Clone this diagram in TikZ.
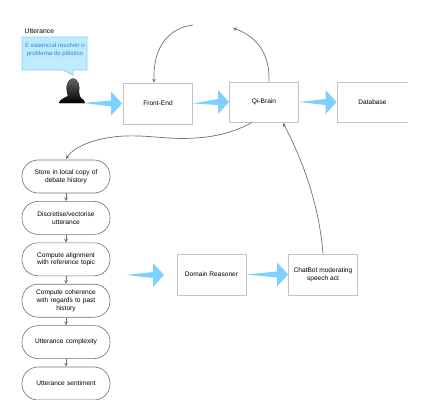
\documentclass[tikz,border=0pt]{standalone}
\usepackage{fontspec}
\setmainfont{Liberation Sans}
\usetikzlibrary{arrows, calc}
\definecolor{flowblue}{HTML}{80D0FF}
\definecolor{calloutfill}{HTML}{C0EAFF}
\definecolor{boxgray}{HTML}{C4C4C4}
\definecolor{linegray}{HTML}{707070}
\tikzstyle{process} = [
    rectangle,
    minimum width=69pt,
    minimum height=40pt,
    inner sep=1pt,
    align=center,
    line width=0.8pt,
    font=\fontsize{6.6}{8}\selectfont,
    draw=boxgray
]
\tikzstyle{startstop} = [
    rectangle,
    rounded corners=16pt,
    minimum width=88pt,
    minimum height=33pt,
    text width=76pt,
    inner sep=1pt,
    align=center,
    line width=0.6pt,
    font=\fontsize{6.6}{7.6}\selectfont,
    draw=linegray
]
\tikzstyle{arrow} = [linegray,line width=0.7pt,->,>=stealth]
\newcommand{\flowarrow}[2]{
\fill [flowblue] (#1) -- ($(#2)+(-11,-3)$) -- ($(#2)+(-11,-12)$) -- (#2)
    -- ($(#2)+(-11,12)$) -- ($(#2)+(-11,3)$) -- cycle;
}
\begin{document}
\begin{tikzpicture}[x=1pt,y=-1pt,node distance=41.4pt]
\useasboundingbox (0,0) rectangle (432,407);
\clip (0,0) rectangle (407.5,399.5);

\node (utterance) [anchor=west,inner sep=0pt,font=\fontsize{6.8}{8}\selectfont] at (24.5,31.5) {Utterance};

\draw [fill=calloutfill,draw=flowblue,line width=0.7pt] (22,37) -- (87,37) -- (87,70) -- (73,70) -- (73,75)
    -- (63,70) -- (22,70) -- cycle;
\node (speech) [anchor=north,align=center,text=blue!45!cyan!70!gray,
    font=\fontsize{6.1}{7.8}\selectfont] at (55,38.5)
{É essencial resolver o\\problema do plástico};

% person
\fill [top color=black!60,bottom color=black]
    (59,103) .. controls (60,99) and (65,98) .. (68,96)
    .. controls (66,90) and (65,82) .. (72,78.5)
    .. controls (79,78) and (80,87) .. (79,92)
    .. controls (79,95) and (80,97) .. (81,98)
    .. controls (83,99) and (85,101) .. (85,103) -- cycle;

\node (frontend) [process, minimum height=41pt] at (158,103.5) {Front-End};
\node (qibrain) [process] at (264,102) {Qi-Brain};
\node (database) [process, minimum width=71pt] at (372.5,102) {Database};

\node (domain) [process, minimum height=41pt] at (211.5,274.5) {Domain Reasoner};
\node (chatbot) [process, minimum height=41pt] at (323,274.5) {ChatBot moderating\\speech act};

\node (store) [startstop] at (66,176.5) {Store in local copy of\\debate history};
\node (discretise) [startstop, below of=store] {Discretise/vectorise\\utterance};
\node (alignment) [startstop, below of=discretise] {Compute alignment\\with reference topic};
\node (coherence) [startstop, below of=alignment] {Compute coherence\\with regards to past\\history};
\node (complexity) [startstop, below of=coherence] {Utterance complexity};
\node (sentiment) [startstop, below of=complexity] {Utterance sentiment};

\coordinate (person) at (83,103);
\coordinate (looptop) at (193,25);
\coordinate (loopend) at (233,28);
\coordinate (reasonertail) at (126,275);
\coordinate (reasonertip) at (164,275);

\flowarrow{person}{$(frontend.west)+(-1,0)$}
\flowarrow{frontend.east}{qibrain.west}
\flowarrow{qibrain.east}{database.west}
\flowarrow{reasonertail}{reasonertip}
\flowarrow{domain.east}{chatbot.west}

\draw [arrow] (looptop) .. controls (170,28) and (153,45) .. ([xshift=-4pt]frontend.north);
\draw [arrow] ([xshift=5pt]qibrain.north) .. controls (270,55) and (258,37) .. (loopend);
\draw [arrow] ([xshift=-12pt]qibrain.south) .. controls (235,132) and (215,137) .. (195,138)
    .. controls (170,140) and (150,135) .. (125,136)
    .. controls (100,137) and (75,145) .. (66,159);
\draw [arrow] (chatbot.north) .. controls (320,215) and (308,170) .. (283,123);

\draw [arrow] (store) -- (discretise);
\draw [arrow] (discretise) -- (alignment);
\draw [arrow] (alignment) -- (coherence);
\draw [arrow] (coherence) -- (complexity);
\draw [arrow] (complexity) -- (sentiment);

\end{tikzpicture}
\end{document}
